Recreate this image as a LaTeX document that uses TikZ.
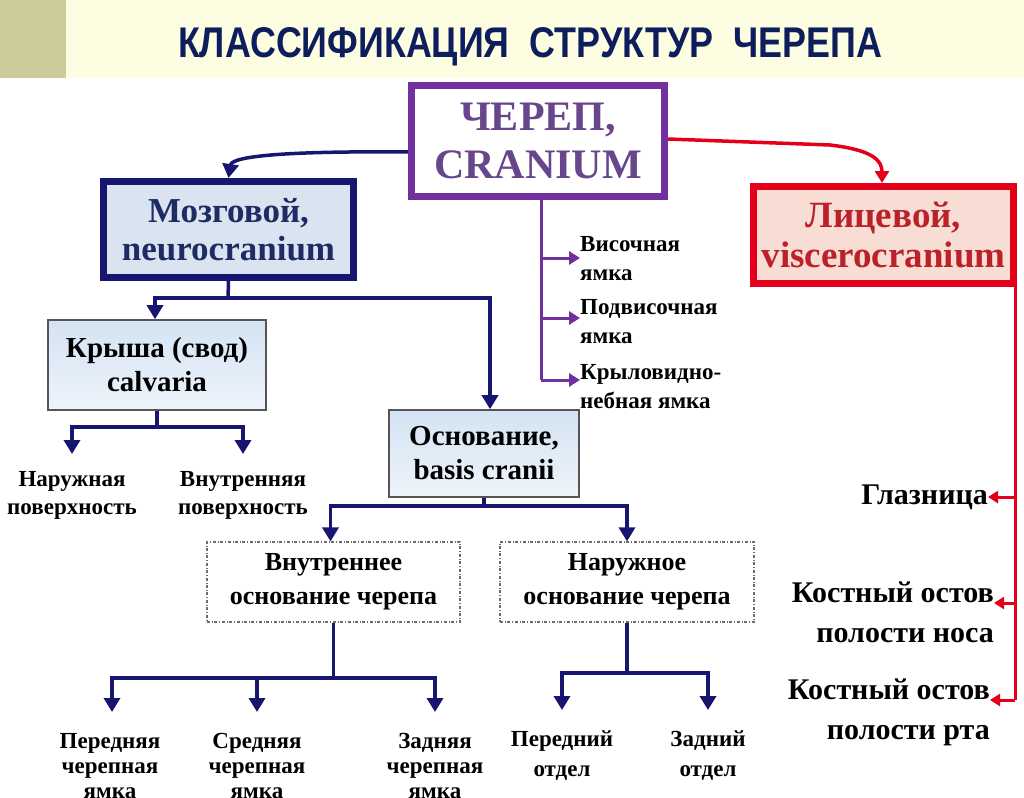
\documentclass[tikz,border=0pt]{standalone}
\usepackage{graphicx}
\usepackage{fontspec}
\setmainfont{Liberation Serif}
\newfontfamily\titlefont{Liberation Sans}
\usetikzlibrary{arrows.meta}
\definecolor{titlebg}{RGB}{253,253,226}
\definecolor{titletan}{RGB}{203,203,153}
\definecolor{titletext}{RGB}{14,30,92}
\definecolor{navy}{RGB}{22,22,112}
\definecolor{navytext}{RGB}{30,44,100}
\definecolor{navyfill}{RGB}{217,228,240}
\definecolor{purp}{RGB}{112,48,160}
\definecolor{purptext}{RGB}{104,70,140}
\definecolor{redc}{RGB}{228,0,27}
\definecolor{redfill}{RGB}{248,221,212}
\definecolor{redtext}{RGB}{188,32,40}
\definecolor{boxgrey}{RGB}{85,85,85}
\definecolor{lbtop}{RGB}{212,227,243}
\definecolor{lbbot}{RGB}{238,244,251}
\definecolor{dashgrey}{RGB}{110,110,110}
\begin{document}
\begin{tikzpicture}[x=1pt,y=-1pt,
  bigbox/.style={draw, line width=7pt, inner sep=0pt, align=center,
    font=\bfseries\fontsize{35}{38}\selectfont},
  lightbox/.style={draw=boxgrey, line width=1.6pt, top color=lbtop, bottom color=lbbot,
    inner sep=0pt, align=center, font=\bfseries\fontsize{29}{34}\selectfont},
  dashbox/.style={draw=dashgrey, dash dot, line width=1.2pt, inner sep=0pt, align=center,
    font=\bfseries\fontsize{26}{34}\selectfont},
  lbl/.style={align=center, inner sep=0pt, font=\bfseries\fontsize{23}{28}\selectfont},
  plbl/.style={align=left, anchor=west, inner sep=0pt, font=\bfseries\fontsize{23}{29}\selectfont},
  rlbl/.style={align=right, anchor=east, inner sep=0pt, font=\bfseries\fontsize{30}{40}\selectfont},
  blbl/.style={align=center, anchor=north, inner sep=0pt, font=\bfseries\fontsize{23}{25}\selectfont},
  navyline/.style={draw=navy, line width=3.5pt},
  navyarrow/.style={navyline, -{Triangle[width=16pt,length=14pt]}},
  purparrow/.style={draw=purp, line width=3pt, -{Triangle[width=13pt,length=11pt]}},
  redarrow/.style={draw=redc, line width=3pt, -{Triangle[width=12pt,length=10pt]}}
]
\useasboundingbox (0,0) rectangle (1024,797);
\fill[white] (0,0) rectangle (1024,797);
% title bar
\fill[titlebg] (0,0) rectangle (1024,78);
\fill[titletan] (0,0) rectangle (66,78);
\node[anchor=base, inner sep=0pt, text=titletext, font=\titlefont\bfseries\fontsize{38}{40}\selectfont]
  (title) at (530,58) {\resizebox{704pt}{30pt}{КЛАССИФИКАЦИЯ\ \ СТРУКТУР\ \ ЧЕРЕПА}};

% main boxes
\node[bigbox, draw=purp, fill=white, text=purptext, minimum width=253pt, minimum height=111pt,
  font=\bfseries\fontsize{42}{48}\selectfont] (cran) at (538,141) {ЧЕРЕП,\\CRANIUM};
\node[bigbox, draw=navy, fill=navyfill, text=navytext, minimum width=250pt, minimum height=96pt]
  (mozg) at (228.5,229.5) {Мозговой,\\neurocranium};
\node[bigbox, draw=redc, fill=redfill, text=redtext, minimum width=260pt, minimum height=97pt,
  font=\bfseries\fontsize{37}{40}\selectfont]
  (lic) at (883.5,235) {Лицевой,\\viscerocranium};

\node[lightbox, minimum width=218pt, minimum height=90pt] (krysha) at (157,365) {Крыша (свод)\\calvaria};
\node[lightbox, minimum width=190pt, minimum height=87pt] (osn) at (484,453.5) {Основание,\\basis cranii};

\node[dashbox, minimum width=253pt, minimum height=80pt] (vnutr) at (333.5,582) {Внутреннее\\основание черепа};
\node[dashbox, minimum width=254pt, minimum height=80pt] (naruzh) at (627,582) {Наружное\\основание черепа};

% purple branch labels
\node[plbl] (p1) at (580,259) {Височная\\ямка};
\node[plbl] (p2) at (580,322) {Подвисочная\\ямка};
\node[plbl] (p3) at (580,387) {Крыловидно-\\небная ямка};

% calvaria labels
\node[lbl] (nar) at (72,495) {Наружная\\поверхность};
\node[lbl] (vnu) at (243,495) {Внутренняя\\поверхность};

% bottom labels
\node[blbl] (b1) at (110,733) {Передняя\\черепная\\ямка};
\node[blbl] (b2) at (257,733) {Средняя\\черепная\\ямка};
\node[blbl] (b3) at (435,733) {Задняя\\черепная\\ямка};
\node[blbl, font=\bfseries\fontsize{23}{30}\selectfont] (b4) at (562,730) {Передний\\отдел};
\node[blbl, font=\bfseries\fontsize{23}{30}\selectfont] (b5) at (708,730) {Задний\\отдел};

% right labels
\node[rlbl] (r1) at (988,497) {Глазница};
\node[rlbl] (r2) at (994,612) {Костный остов\\полости носа};
\node[rlbl] (r3) at (990,712) {Костный остов\\полости рта};

% curved connectors from cranium
\draw[navyline, -{Triangle[width=16pt,length=14pt]}] ([yshift=-11pt]cran.west) .. controls (300,151) and (232,155) .. (mozg.north);
\draw[draw=redc, line width=3.5pt, -{Triangle[width=14pt,length=12pt]}] ([yshift=2pt]cran.east) -- (830,145) .. controls (872,150) and (882,160) .. (lic.north -| 882,0);

% purple branch
\coordinate (pv) at (541,200);
\draw[draw=purp, line width=3pt] (pv) -- (541,380);
\draw[purparrow] (541,258) -- (p1.west |- 0,258);
\draw[purparrow] (541,318) -- (p2.west |- 0,318);
\draw[purparrow] (541,380) -- (p3.west |- 0,380);

% neurocranium branches
\draw[navyline] (mozg.south) -- (228,298) coordinate (m1);
\draw[navyarrow] (m1) -| ([xshift=-2pt]krysha.north);
\draw[navyarrow] (m1) -| ([xshift=6pt]osn.north);

% calvaria branches
\coordinate (k1) at (157,427);
\draw[navyline] (krysha.south) -- (k1);
\draw[navyarrow] (k1) -| (nar.north |- 0,454);
\draw[navyarrow] (k1) -| (vnu.north |- 0,454);

% basis branches
\coordinate (o1) at (484,506);
\draw[navyline] (osn.south) -- (o1);
\draw[navyarrow] (o1) -| ([xshift=-3pt]vnutr.north);
\draw[navyarrow] (o1) -| (naruzh.north);

% internal base branches
\coordinate (v1) at (333.5,678);
\draw[navyline] (vnutr.south) -- (v1);
\draw[navyarrow] (v1) -| ([xshift=2pt]b1.north |- 0,712);
\draw[navyarrow] (v1) -| (b2.north |- 0,712);
\draw[navyarrow] (v1) -| (b3.north |- 0,712);

% external base branches
\coordinate (n1) at (627,673);
\draw[navyline] (naruzh.south) -- (n1);
\draw[navyarrow] (n1) -| (b4.north |- 0,710);
\draw[navyarrow] (n1) -| (b5.north |- 0,710);

% viscerocranium branch
\coordinate (lv) at (1015,287);
\draw[draw=redc, line width=3pt] (lv) -- (1015,700);
\draw[redarrow] (1015,497) -- (r1.east);
\draw[redarrow] (1015,603) -- (r2.east |- 0,603);
\draw[redarrow] (1015,700) -- (r3.east |- 0,700);
\end{tikzpicture}
\end{document}
